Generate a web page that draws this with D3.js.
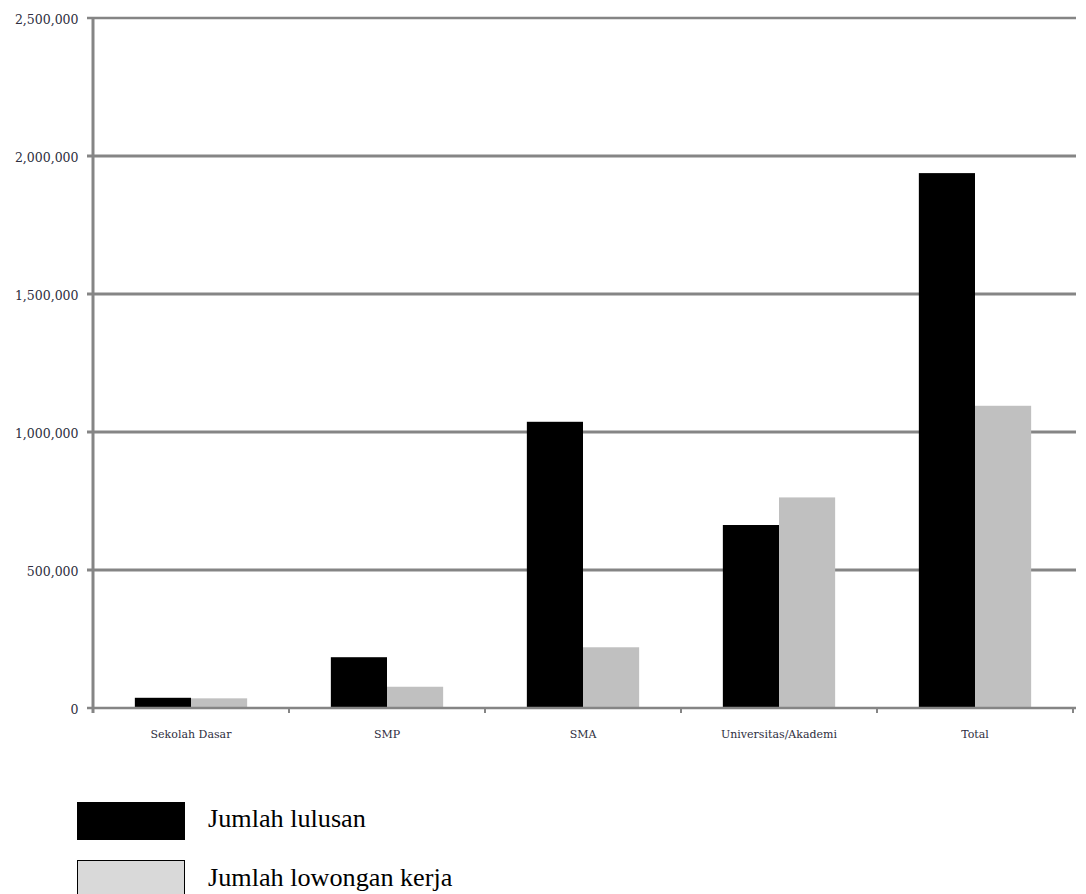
<!DOCTYPE html>
<html>
<head>
<meta charset="utf-8">
<script src="https://cdn.jsdelivr.net/npm/d3@7"></script>
<style>
html,body{margin:0;padding:0;background:#fff;}
svg{display:block;}
</style>
</head>
<body>
<svg id="chart" width="1086" height="894"></svg>
<script>
const categories = ["Sekolah Dasar", "SMP", "SMA", "Universitas/Akademi", "Total"];
const seriesNames = ["Jumlah lulusan", "Jumlah lowongan kerja"];
const lulusan = [37000, 184000, 1037000, 663000, 1938000];
const lowongan = [35000, 77000, 220000, 763000, 1095000];
const yTicks = [0, 500000, 1000000, 1500000, 2000000, 2500000];

(function () {
const svg = d3.select("#chart");
const mLeft = 93, mRight = 1073, mTop = 18, mBottom = 708;

const x0 = d3.scaleBand().domain(categories).range([mLeft, mRight])
  .paddingInner(0.427).paddingOuter(0.2135);
const x1 = d3.scaleBand().domain(seriesNames).range([0, x0.bandwidth()]);
const y = d3.scaleLinear().domain([0, 2500000]).range([mBottom, mTop]);
const color = d3.scaleOrdinal().domain(seriesNames).range(["#000000", "#c0c0c0"]);
const fmt = d3.format(",");

// gridlines
svg.append("g").selectAll("line").data(yTicks.filter(d => d > 0)).join("line")
  .attr("x1", mLeft - 6).attr("x2", mRight + 3)
  .attr("y1", d => y(d)).attr("y2", d => y(d))
  .attr("stroke", "#858585")
  .attr("stroke-width", d => d === 2500000 ? 2.5 : 3);

// y labels
svg.append("g").selectAll("text").data(yTicks).join("text")
  .attr("x", 78.5).attr("y", d => y(d) + 2).attr("dy", "0.35em")
  .attr("text-anchor", "end")
  .attr("font-family", "'DejaVu Serif', serif")
  .attr("font-size", 12.5)
  .attr("fill", "#2e2e40")
  .text(d => fmt(d));

// bars
const data = categories.map((c, i) => ({cat: c, vals: [lulusan[i], lowongan[i]]}));
const groups = svg.append("g").selectAll("g").data(data).join("g")
  .attr("transform", d => `translate(${x0(d.cat)},0)`);
groups.selectAll("rect").data(d => d.vals.map((v, j) => ({name: seriesNames[j], v}))).join("rect")
  .attr("x", d => x1(d.name))
  .attr("width", x1.bandwidth())
  .attr("y", d => y(d.v))
  .attr("height", d => y(0) - y(d.v))
  .attr("fill", d => color(d.name));

// x axis line
svg.append("line").attr("x1", mLeft - 6).attr("x2", mRight + 3)
  .attr("y1", mBottom).attr("y2", mBottom)
  .attr("stroke", "#858585").attr("stroke-width", 2.5);

// category boundary ticks
const step = x0.step();
const boundaries = d3.range(1, categories.length + 1).map(i => mLeft + i * step);
svg.append("g").selectAll("line").data(boundaries).join("line")
  .attr("x1", d => d).attr("x2", d => d)
  .attr("y1", mBottom).attr("y2", mBottom + 5)
  .attr("stroke", "#858585").attr("stroke-width", 2);

// y axis line
svg.append("line").attr("x1", mLeft).attr("x2", mLeft)
  .attr("y1", mTop - 1).attr("y2", mBottom + 5)
  .attr("stroke", "#858585").attr("stroke-width", 3);

// category labels
svg.append("g").selectAll("text").data(categories).join("text")
  .attr("x", d => x0(d) + x0.bandwidth() / 2)
  .attr("y", 738)
  .attr("text-anchor", "middle")
  .attr("font-family", "'DejaVu Serif', serif")
  .attr("font-size", 11)
  .attr("fill", "#2e2e40")
  .text(d => d);

// legend
const legend = svg.append("g");
seriesNames.forEach((n, i) => {
  legend.append("rect")
    .attr("x", 77.5).attr("y", 802.5 + i * 58)
    .attr("width", 107).attr("height", 37)
    .attr("fill", i === 0 ? "#000" : "#d9d9d9")
    .attr("stroke", "#000").attr("stroke-width", 1);
  legend.append("text")
    .attr("x", 208).attr("y", 827 + i * 59)
    .attr("font-family", "'Liberation Serif', 'Times New Roman', serif")
    .attr("font-size", 26.2)
    .attr("fill", "#000")
    .text(n);
});
})();
</script>
</body>
</html>
